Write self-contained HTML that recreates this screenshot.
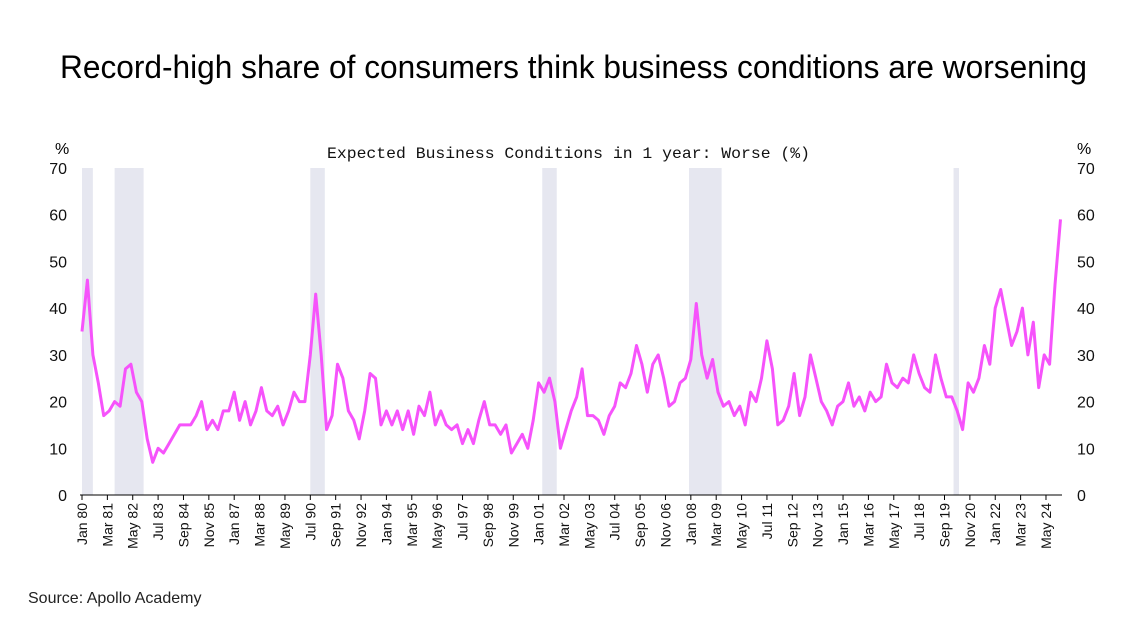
<!DOCTYPE html>
<html><head><meta charset="utf-8"><style>
body{margin:0;background:#fff;width:1146px;height:636px;overflow:hidden;font-family:"Liberation Sans",sans-serif}
</style></head><body>
<svg id="c" width="1146" height="636" xmlns="http://www.w3.org/2000/svg">
<text x="60" y="78" textLength="1027" lengthAdjust="spacingAndGlyphs" font-size="32" fill="#000">Record-high share of consumers think business conditions are worsening</text>
<text x="327" y="158" textLength="483" lengthAdjust="spacingAndGlyphs" font-family="Liberation Mono,monospace" font-size="16" fill="#111">Expected Business Conditions in 1 year: Worse (%)</text>
<text x="55" y="154" font-size="16">%</text>
<text x="1077" y="154" font-size="16">%</text>
<text x="28" y="603" font-size="16" fill="#222">Source: Apollo Academy</text>
<g id="shade"></g><g id="axes"></g><g id="series"></g>
</svg>
<script>
const values=[35,46,30,24, 17,18,20,19, 27,28,22,20, 12,7,10,9, 11,13,15,15, 15,17,20,14, 16,14,18,18, 22,16,20,15, 18,23,18,17, 19,15,18,22, 20,20,30,43, 30,14,17,28, 25,18,16,12, 18,26,25,15, 18,15,18,14, 18,13,19,17, 22,15,18,15, 14,15,11,14, 11,16,20,15, 15,13,15,9, 11,13,10,16, 24,22,25,20, 10,14,18,21, 27,17,17,16, 13,17,19,24, 23,26,32,28, 22,28,30,25, 19,20,24,25, 29,41,30,25, 29,22,19,20, 17,19,15,22, 20,25,33,27, 15,16,19,26, 17,21,30,25, 20,18,15,19, 20,24,19,21, 18,22,20,21, 28,24,23,25, 24,30,26,23, 22,30,25,21, 21,18,14,24, 22,25,32,28, 40,44,38,32, 35,40,30,37, 23,30,28,45, 59];
const recessions=[[0,6],[18,34],[126,134],[254,262],[335,353],[481,484]];
const yTicks=[0,10,20,30,40,50,60,70];
const xLabels=["Jan 80","Mar 81","May 82","Jul 83","Sep 84","Nov 85","Jan 87","Mar 88","May 89","Jul 90","Sep 91","Nov 92","Jan 94","Mar 95","May 96","Jul 97","Sep 98","Nov 99","Jan 01","Mar 02","May 03","Jul 04","Sep 05","Nov 06","Jan 08","Mar 09","May 10","Jul 11","Sep 12","Nov 13","Jan 15","Mar 16","May 17","Jul 18","Sep 19","Nov 20","Jan 22","Mar 23","May 24"];
const NS="http://www.w3.org/2000/svg";
const X0=82,PXM=1.812,Y0=495,PXU=327/70;
const xm=m=>X0+m*PXM, y=v=>Y0-v*PXU;
function mk(t,a,p,txt){const e=document.createElementNS(NS,t);for(const k in a)e.setAttribute(k,a[k]);if(txt!=null)e.textContent=txt;document.getElementById(p).appendChild(e);return e;}
recessions.forEach(r=>{
const e=mk('rect',{x:xm(r[0]),y:y(70),width:xm(r[1])-xm(r[0]),height:y(0)-y(70),fill:'#e6e7f0'},'shade');


});
const ax=mk('line',{x1:80,x2:1062,y1:Y0,y2:Y0,stroke:'#000','stroke-width':1},'axes');


yTicks.forEach(t=>{
const a=mk('text',{x:67,y:y(t)+6,'text-anchor':'end','font-size':16,fill:'#111'},'axes',t);


const b=mk('text',{x:1077,y:y(t)+6,'font-size':16,fill:'#111'},'axes',t);


});
xLabels.forEach((l,i)=>{
const px=xm(i*14);
mk('line',{x1:px,x2:px,y1:Y0,y2:Y0+5,stroke:'#000'},'axes');
const t=mk('text',{x:0,y:0,'text-anchor':'end','font-size':14,fill:'#111',transform:`translate(${px+5},${Y0+8}) rotate(-90)`},'axes',l);


});
const pts=values.map((v,i)=>`${xm(i*3).toFixed(1)},${y(v).toFixed(1)}`).join(' ');
const pl=mk('polyline',{points:pts,fill:'none',stroke:'#f653fb','stroke-width':3,'stroke-linejoin':'round'},'series');


</script>
</body></html>
